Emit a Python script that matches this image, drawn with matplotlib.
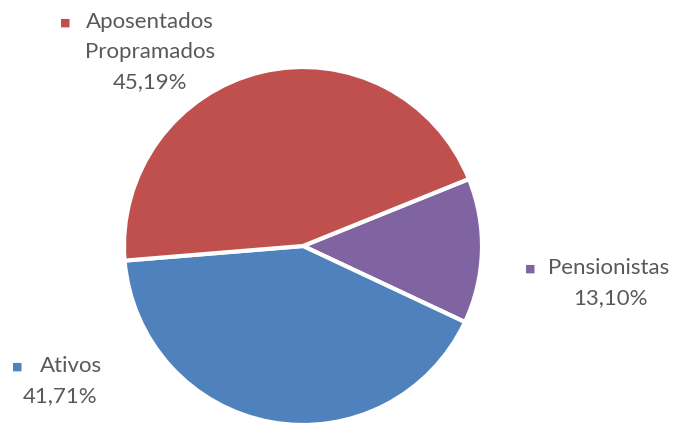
import matplotlib
matplotlib.use("Agg")
import matplotlib.pyplot as plt

# dados do grafico
categorias = ["Pensionistas", "Ativos", "Aposentados\nPropramados"]
valores = [13.10, 41.71, 45.19]
cores = ["#8064A2", "#4F81BD", "#C0504D"]

plt.rcParams['font.family'] = ['Lato', 'DejaVu Sans']

fig = plt.figure(figsize=(6.77, 4.24), dpi=100)
ax = fig.add_axes([0, 0, 1, 1])
ax.axis('off')

ax.pie(valores, colors=cores, startangle=22, counterclock=False,
       center=(303, 178), radius=179,
       wedgeprops=dict(edgecolor='white', linewidth=3))
ax.set_xlim(0, 677)
ax.set_ylim(0, 424)
ax.set_aspect('equal')

cinza = "#595959"
fs = 16

# posicoes dos rotulos (x do quadrado, x inicio do texto, x centro, y da 1a linha)
pos = [(530, 548, 610, 424 - 268), (17, 40, 60, 424 - 366), (65, 86, 150, 424 - 22)]

for nome, v, c, (xq, xt, xc, y) in zip(categorias, valores, cores, pos):
    linhas = nome.split("\n")
    ax.text(xq, y, "■", color=c, fontsize=8, ha='center', va='center')
    ax.text(xt, y, linhas[0], color=cinza, fontsize=fs, ha='left', va='center')
    yy = y
    for l in linhas[1:]:
        yy -= 30
        ax.text(xc, yy, l, color=cinza, fontsize=fs, ha='center', va='center')
    yy -= 30
    ax.text(xc, yy, ("%.2f%%" % v).replace(".", ","), color=cinza, fontsize=fs,
            ha='center', va='center')

fig.savefig("out.png", dpi=100)
